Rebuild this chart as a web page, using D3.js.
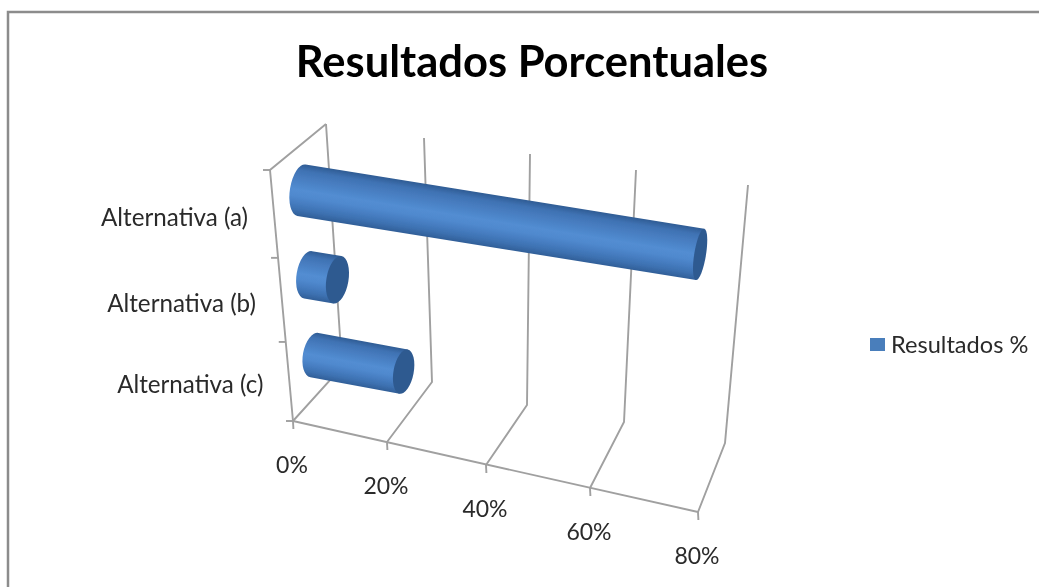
<!DOCTYPE html>
<html>
<head>
<meta charset="utf-8">
<script src="https://cdn.jsdelivr.net/npm/d3@7"></script>
<style>html,body{margin:0;padding:0;background:#fff;overflow:hidden}svg{display:block}text{font-family:Lato,"Open Sans",sans-serif;fill:#2a2a2a}</style>
</head>
<body>
<svg id="c" width="1039" height="587"></svg>
<script>
const titleText = "Resultados Porcentuales";
const seriesName = "Resultados %";
const categories = ["Alternativa (a)", "Alternativa (b)", "Alternativa (c)"];
const values = [75, 6, 19];
const tickValues = [0, 20, 40, 60, 80];
const tickLabels = ["0%", "20%", "40%", "60%", "80%"];

const svg = d3.select("#c");
const defs = svg.append("defs");
defs.append("filter").attr("id","soft").attr("x","-5%").attr("y","-5%").attr("width","110%").attr("height","110%")
  .append("feGaussianBlur").attr("stdDeviation",0.6);

// Perspective frame: one scale per box edge, along the value axis
const edge = r => d3.scaleLinear().domain(tickValues).range(r);
const frontBottomX = edge([293,387,486,590,698]), frontBottomY = edge([421,442,465,488,512]);
const backBottomX  = edge([342,432,527,624,725]), backBottomY  = edge([367,382,405,422,443]);
const backTopX     = edge([326,424,530,636,748]), backTopY     = edge([124,138,154,170,185]);
const frontTopX    = edge([270,380,491,601,715]), frontTopY    = edge([170,185,203,221,240]);
const catPos = d3.scaleLinear().domain([0,1,2,3]).range([0,0.35,0.685,1]);
const capWidth = d3.scaleLinear().domain([0,80]).range([11.5,5.5]);
const radius = d3.scaleOrdinal().domain(categories).range([26,24,22.5]);

function project(v, c, d){
  const t = catPos(c);
  const tx = frontTopX(v)+(backTopX(v)-frontTopX(v))*d, ty = frontTopY(v)+(backTopY(v)-frontTopY(v))*d;
  const bx = frontBottomX(v)+(backBottomX(v)-frontBottomX(v))*d, by = frontBottomY(v)+(backBottomY(v)-frontBottomY(v))*d;
  return [tx+(bx-tx)*t, ty+(by-ty)*t];
}

const root = svg.append("g").attr("filter","url(#soft)");

// Outer frame
root.append("path").attr("d","M8,587V12H1039").attr("fill","none").attr("stroke","#8c8c8c").attr("stroke-width",2.5);

// Grid + axes
const grid = root.append("g").attr("fill","none").attr("stroke","#a0a0a0").attr("stroke-width",1.9);
const line = d3.line();
tickValues.forEach(v=>{
  grid.append("path").attr("d",line([project(v,3,0),project(v,3,1),project(v,0,1)]));
  const p = project(v,3,0);
  grid.append("path").attr("d",line([p,[p[0]+0.4,p[1]+8]]));
});
grid.append("path").attr("d",line([project(0,3,0),project(80,3,0)]));
grid.append("path").attr("d",line([project(0,3,0),project(0,0,0),project(0,0,1)]));
[0,1,2,3].forEach(c=>{
  const p = project(0,c,0);
  grid.append("path").attr("d",line([p,[p[0]-7,p[1]]]));
});

// Cylinders
const barColor = d3.scaleLinear().domain([0,0.12,0.55,0.85,1]).range(["#2f5c94","#3f72b3","#5590d6","#3f74b6","#315f98"]);
const capFill = "#2f5a90";
const bars = root.append("g");
categories.forEach((cat,i)=>{
  const a = project(0,i+0.5,0.5), b = project(values[i],i+0.5,0.5);
  const ang = Math.atan2(b[1]-a[1], b[0]-a[0]);
  const R = radius(cat), rxA = capWidth(0), rxB = capWidth(values[i]);
  const deg = ang*180/Math.PI, nx = -Math.sin(ang), ny = Math.cos(ang);
  const gid = "g"+i;
  const g = defs.append("linearGradient").attr("id",gid).attr("gradientUnits","userSpaceOnUse")
    .attr("x1",a[0]-nx*R).attr("y1",a[1]-ny*R).attr("x2",a[0]+nx*R).attr("y2",a[1]+ny*R);
  d3.range(0,1.001,0.125).forEach(t=>g.append("stop").attr("offset",t).attr("stop-color",barColor(t)));
  const A1=[a[0]-nx*R,a[1]-ny*R], A2=[a[0]+nx*R,a[1]+ny*R], B1=[b[0]-nx*R,b[1]-ny*R], B2=[b[0]+nx*R,b[1]+ny*R];
  bars.append("path").attr("fill",`url(#${gid})`)
    .attr("d",`M${A1}L${B1}L${B2}L${A2}A${rxA},${R} ${deg} 0 1 ${A1}Z`);
  bars.append("ellipse").attr("rx",rxB).attr("ry",R).attr("fill",capFill)
    .attr("transform",`translate(${b}) rotate(${deg})`);
});

// Value labels
tickValues.forEach((v,i)=>{
  const p = project(v,3,0);
  root.append("text").attr("x",p[0]-1).attr("y",p[1]+44+8).attr("text-anchor","middle")
    .attr("font-size",23).text(tickLabels[i]);
});
// Category labels
categories.forEach((cat,i)=>{
  const p = project(0,i+0.5,0);
  root.append("text").attr("x",p[0]-26).attr("y",p[1]+12).attr("text-anchor","end")
    .attr("font-size",24.2).text(cat);
});
// Title
root.append("text").attr("x",532).attr("y",77).attr("text-anchor","middle")
  .attr("font-size",43.5).attr("font-weight",700).style("fill","#000").text(titleText);
// Legend
root.append("rect").attr("x",870).attr("y",338).attr("width",15).attr("height",13).attr("fill","#4a7ebb");
root.append("text").attr("x",891).attr("y",353).attr("font-size",23.6).text(seriesName);
</script>
</body>
</html>
